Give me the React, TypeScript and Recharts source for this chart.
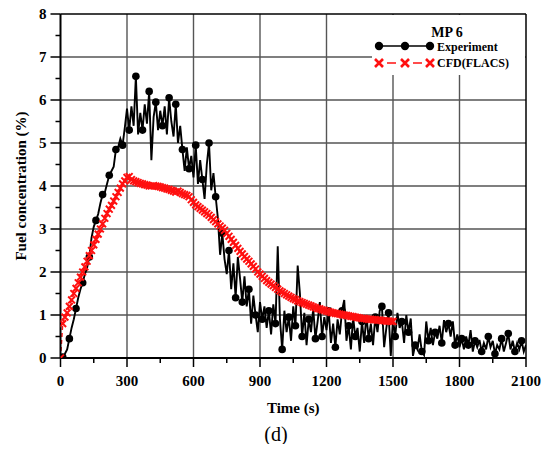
import React from "react";
import { LineChart, Line, XAxis, YAxis, ReferenceLine } from "recharts";

// sampling interval of both records (s)
const STEP = 10;

// MP 6 measured concentration (%), t = 0, 10, 20 ... 2100 s
const experimentValues = [
  0, 0.02, 0.1, 0.2, 0.45, 0.7, 0.9, 1.15, 1.4, 1.6,
  1.75, 1.95, 2.1, 2.35, 2.8, 3.05, 3.2, 3.35, 3.6, 3.8,
  3.85, 4.05, 4.25, 4.35, 4.45, 4.85, 4.9, 5.1, 4.95, 5.35,
  5.8, 5.3, 5.85, 5.4, 6.55, 5.2, 5.7, 5.3, 5.9, 5.45,
  6.2, 4.6, 5.6, 5.95, 5.3, 5.75, 5.4, 5.85, 5.2, 6.05,
  5.5, 5.15, 5.9, 5.0, 5.4, 4.85, 4.35, 4.9, 4.4, 4.7,
  4.2, 4.95, 4.05, 4.6, 4.15, 3.7, 4.5, 5.0, 3.9, 4.3,
  3.75, 3.25, 2.4, 2.9, 2.3, 1.95, 2.5, 1.6, 2.2, 1.4,
  2.35, 1.85, 1.3, 1.9, 1.2, 1.6, 0.8, 1.45, 1.0, 0.6,
  1.3, 0.9, 1.2, 0.7, 1.1, 0.55, 1.25, 0.8, 2.6, 0.9,
  0.2, 1.1, 0.6, 0.95, 0.4, 1.2, 0.75, 2.15, 1.5, 0.5,
  1.05, 0.3, 0.9, 0.6, 1.15, 0.45, 0.85, 1.3, 0.5, 0.95,
  0.65, 1.1, 0.35, 0.8, 0.25, 0.9, 0.55, 1.1, 1.35, 0.4,
  0.75, 0.2, 0.95, 0.5, 0.7, 0.15, 0.85, 0.35, 1.0, 0.45,
  0.8, 0.3, 0.95, 0.6, 1.1, 1.2, 0.25, 0.7, 1.05, 0.05,
  0.9, 0.5, 1.05, 0.7, 0.85, 0.35, 1.0, 0.6, 0.92, 0.05,
  0.3, 0.2, 0.55, 0.15, 0.07, 0.85, 0.4, 0.7, 0.3, 0.6,
  0.45, 0.75, 0.35, 0.88, 0.6, 0.8, 0.5, 0.85, 0.3, 0.55,
  0.25, 0.45, 0.2, 0.5, 0.3, 0.65, 0.15, 0.4, 0.25, 0.42,
  0.15, 0.35, 0.2, 0.5, 0.25, 0.4, 0.1, 0.3, 0.2, 0.45,
  0.15, 0.35, 0.57, 0.2, 0.4, 0.15, 0.35, 0.2, 0.4, 0.15,
  0.3,
];

// CFD (FLACS) prediction (%), t = 0, 10, 20 ... 1500 s
const cfdValues = [
  0, 0.8, 0.95, 1.05, 1.2, 1.35, 1.5, 1.62, 1.75, 1.88,
  2.0, 2.12, 2.25, 2.38, 2.5, 2.63, 2.76, 2.88, 3.0, 3.12,
  3.25, 3.36, 3.46, 3.55, 3.65, 3.75, 3.85, 3.95, 4.05, 4.12,
  4.2, 4.22, 4.15, 4.12, 4.1, 4.08, 4.06, 4.05, 4.03, 4.02,
  4.0, 4.0, 4.01, 4.0, 3.99, 3.98, 3.96, 3.95, 3.93, 3.92,
  3.9, 3.88, 3.86, 3.88, 3.85, 3.82, 3.8, 3.78, 3.75, 3.68,
  3.62, 3.56, 3.52, 3.48, 3.44, 3.4, 3.36, 3.32, 3.27, 3.22,
  3.17, 3.12, 3.07, 3.02, 2.97, 2.9, 2.83, 2.76, 2.69, 2.62,
  2.55, 2.48, 2.42, 2.36, 2.3, 2.25, 2.19, 2.13, 2.07, 2.0,
  1.95, 1.9, 1.85, 1.8, 1.76, 1.72, 1.68, 1.64, 1.6, 1.56,
  1.53, 1.5, 1.47, 1.44, 1.41, 1.38, 1.36, 1.33, 1.31, 1.29,
  1.27, 1.25, 1.23, 1.21, 1.19, 1.17, 1.15, 1.14, 1.12, 1.11,
  1.09, 1.08, 1.06, 1.05, 1.04, 1.03, 1.02, 1.01, 1.0, 0.99,
  0.98, 0.97, 0.96, 0.95, 0.94, 0.93, 0.92, 0.92, 0.91, 0.9,
  0.9, 0.89, 0.89, 0.88, 0.88, 0.87, 0.87, 0.86, 0.86, 0.85,
  0.85,
];

const xTicks = [0, 150, 300, 450, 600, 750, 900, 1050, 1200, 1350, 1500, 1650, 1800, 1950, 2100];
const yTicks = [0, 0.5, 1, 1.5, 2, 2.5, 3, 3.5, 4, 4.5, 5, 5.5, 6, 6.5, 7, 7.5, 8];
const xGrid = [300, 600, 900, 1200, 1500, 1800];
const yGrid = [1, 2, 3, 4, 5, 6, 7];

const FONT = "'Liberation Serif', 'Times New Roman', serif";

const experimentData = experimentValues.map((v, i) => ({ t: i * STEP, v }));
const cfdData = cfdValues.map((v, i) => ({ t: i * STEP, v }));

function XTick(props: any) {
  const { x, y, payload } = props;
  const major = payload.value % 300 === 0;
  return (
    <g>
      <line x1={x} x2={x} y1={y} y2={y + (major ? 9 : 5)} stroke="#000" strokeWidth={1.5} />
      {major && (
        <text x={x} y={y + 28} textAnchor="middle" fontFamily={FONT} fontWeight="bold" fontSize={15} fill="#000">
          {payload.value}
        </text>
      )}
    </g>
  );
}

function YTick(props: any) {
  const { x, y, payload } = props;
  const major = payload.value % 1 === 0;
  return (
    <g>
      <line x1={x - (major ? 10 : 5)} x2={x} y1={y} y2={y} stroke="#000" strokeWidth={1.5} />
      {major && (
        <text x={x - 14} y={y + 5} textAnchor="end" fontFamily={FONT} fontWeight="bold" fontSize={15} fill="#000">
          {payload.value}
        </text>
      )}
    </g>
  );
}

function ExpDot(props: any) {
  const { cx, cy, index } = props;
  if (index % 3 !== 1) return <g key={`e${index}`} />;
  return <circle key={`e${index}`} cx={cx} cy={cy} r={3.8} fill="#000" />;
}

function CfdDot(props: any) {
  const { cx, cy, index } = props;
  const s = 3.4;
  return (
    <path
      key={`c${index}`}
      d={`M${cx - s},${cy - s}L${cx + s},${cy + s}M${cx - s},${cy + s}L${cx + s},${cy - s}`}
      stroke="#ff1010"
      strokeWidth={2}
      fill="none"
    />
  );
}

// legend drawn in the same coordinates as the chart svg (chart starts 4px above the page top margin)
function LegendBox() {
  return (
    <svg width={536} height={80} style={{ position: "absolute", left: 0, top: 4, pointerEvents: "none" }}>
      <rect x={364} y={7} width={153} height={60} fill="#fff" />
      <text x={439} y={29} textAnchor="middle" fontFamily={FONT} fontWeight="bold" fontSize={14}>
        MP 6
      </text>
      <line x1={371} x2={422} y1={38} y2={38} stroke="#000" strokeWidth={1.5} />
      {[371, 397, 422].map((cx) => (
        <circle key={cx} cx={cx} cy={38} r={4.2} fill="#000" />
      ))}
      <text x={429} y={42.5} fontFamily={FONT} fontWeight="bold" fontSize={12}>
        Experiment
      </text>
      <line x1={379} x2={388} y1={55} y2={55} stroke="#ff1010" strokeWidth={1.5} />
      <line x1={405} x2={414} y1={55} y2={55} stroke="#ff1010" strokeWidth={1.5} />
      {[371, 397, 422].map((cx) => (
        <path
          key={cx}
          d={`M${cx - 4},${51} L${cx + 4},${59} M${cx - 4},${59} L${cx + 4},${51}`}
          stroke="#ff1010"
          strokeWidth={2.6}
        />
      ))}
      <text x={429} y={59} fontFamily={FONT} fontWeight="bold" fontSize={12}>
        CFD(FLACS)
      </text>
    </svg>
  );
}

export default function App() {
  return (
    <div style={{ position: "relative", width: 536, height: 440, marginTop: -4 }}>
      <LineChart width={536} height={440} margin={{ top: 10, right: 18, left: 0, bottom: 0 }}>
        <XAxis
          dataKey="t"
          type="number"
          domain={[0, 2100]}
          ticks={xTicks}
          interval={0}
          tickSize={0}
          tickMargin={0}
          tick={<XTick />}
          height={86}
          axisLine={{ stroke: "#000", strokeWidth: 2 }}
          tickLine={false}
          allowDataOverflow
          label={{
            value: "Time (s)",
            position: "insideTop",
            offset: 44,
            style: { fontFamily: FONT, fontWeight: "bold", fontSize: 15, fill: "#000" },
          }}
        />
        <YAxis
          type="number"
          domain={[0, 8]}
          ticks={yTicks}
          interval={0}
          tickSize={0}
          tickMargin={0}
          tick={<YTick />}
          width={52.5}
          axisLine={{ stroke: "#000", strokeWidth: 2 }}
          tickLine={false}
          allowDataOverflow
          label={{
            value: "Fuel concentration (%)",
            angle: -90,
            position: "insideLeft",
            offset: 13,
            style: { fontFamily: FONT, fontWeight: "bold", fontSize: 15, fill: "#000", textAnchor: "middle" },
          }}
        />
        {xGrid.map((v) => (
          <ReferenceLine key={`gx${v}`} x={v} stroke="#555" strokeWidth={1.4} />
        ))}
        {yGrid.map((v) => (
          <ReferenceLine key={`gy${v}`} y={v} stroke="#555" strokeWidth={1.4} />
        ))}
        <ReferenceLine x={2100} stroke="#000" strokeWidth={1.5} />
        <ReferenceLine y={8} stroke="#000" strokeWidth={1.5} />
        <Line
          data={experimentData}
          dataKey="v"
          type="linear"
          stroke="#000"
          strokeWidth={1.9}
          dot={<ExpDot />}
          isAnimationActive={false}
        />
        <Line
          data={cfdData}
          dataKey="v"
          type="linear"
          stroke="#ff1010"
          strokeWidth={1.5}
          strokeDasharray="4 3"
          dot={<CfdDot />}
          isAnimationActive={false}
        />
      </LineChart>
      <LegendBox />
      <div
        style={{
          position: "absolute",
          left: 0,
          width: 536,
          top: 420,
          textAlign: "center",
          fontFamily: FONT,
          fontSize: 20,
          lineHeight: "20px",
          color: "#000",
        }}
      >
        (d)
      </div>
    </div>
  );
}
